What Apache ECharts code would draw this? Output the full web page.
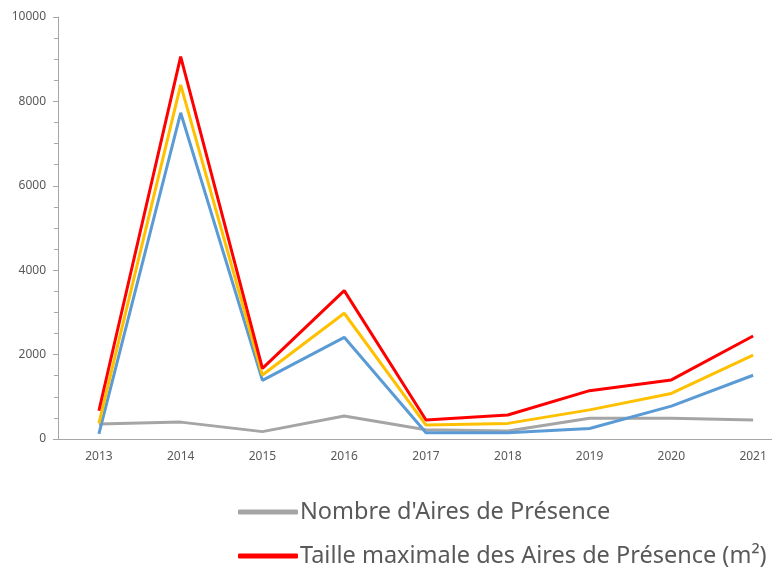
<!DOCTYPE html>
<html><head><meta charset="utf-8">
<script src="https://cdn.jsdelivr.net/npm/echarts@6/dist/echarts.min.js"></script>
<style>html,body{margin:0;padding:0;background:#fff;overflow:hidden;width:772px;height:567px}#c{width:794px;height:567px}</style>
</head><body><div id="c"></div>
<script>
const years = ['2013','2014','2015','2016','2017','2018','2019','2020','2021'];
const nombre = [355, 400, 175, 545, 220, 190, 490, 490, 450];
const tailleMin = [120, 7730, 1390, 2410, 150, 150, 250, 780, 1510];
const tailleMoy = [370, 8390, 1515, 2980, 330, 370, 690, 1080, 1990];
const tailleMax = [670, 9060, 1675, 3515, 450, 570, 1145, 1400, 2440];
const yTicks = [0, 2000, 4000, 6000, 8000, 10000];

const names = {
  nombre: "Nombre d'Aires de Présence",
  min: "Taille minimale des Aires de Présence (m²)",
  moy: "Taille moyenne des Aires de Présence (m²)",
  max: "Taille maximale des Aires de Présence (m²)"
};

const chart = echarts.init(document.getElementById('c'));
const ln = (name, data, color, z) => ({
  name, type: 'line', data, symbol: 'none', z,
  lineStyle: { color, width: 3 }, itemStyle: { color }
});
const legendBase = (name, top) => ({
  data: [name], left: 233, top,
  icon: 'roundRect', itemWidth: 60, itemHeight: 5, itemGap: 0,
  textStyle: { color: '#595959', fontSize: 23.5, fontFamily: 'Noto Sans', padding: [0, 0, 0, -3] }
});
chart.setOption({
  animation: false,
  grid: { left: 58, top: 17, bottom: 128, right: 0 },
  xAxis: {
    type: 'category', data: years, boundaryGap: true,
    axisLine: { lineStyle: { color: '#a6a6a6', width: 1 } },
    axisTick: { show: false },
    axisLabel: { color: '#595959', fontSize: 12, fontFamily: 'Noto Sans', margin: 12 }
  },
  yAxis: {
    type: 'value', min: yTicks[0], max: yTicks[yTicks.length - 1], interval: 2000,
    splitLine: { show: false },
    axisLine: { show: true, lineStyle: { color: '#a6a6a6', width: 1 } },
    axisTick: { show: true, length: 5, lineStyle: { color: '#a6a6a6' } },
    minorTick: { show: true, splitNumber: 4, length: 4, lineStyle: { color: '#a6a6a6' } },
    axisLabel: { color: '#595959', fontSize: 12, fontFamily: 'Noto Sans', margin: 12,
      formatter: v => String(v) }
  },
  legend: [legendBase(names.nombre, 495), legendBase(names.max, 539)],
  series: [
    ln(names.nombre, nombre, '#A5A5A5', 1),
    ln(names.min, tailleMin, '#5B9BD5', 2),
    ln(names.moy, tailleMoy, '#FFC000', 3),
    ln(names.max, tailleMax, '#FF0000', 4)
  ]
});
</script></body></html>
